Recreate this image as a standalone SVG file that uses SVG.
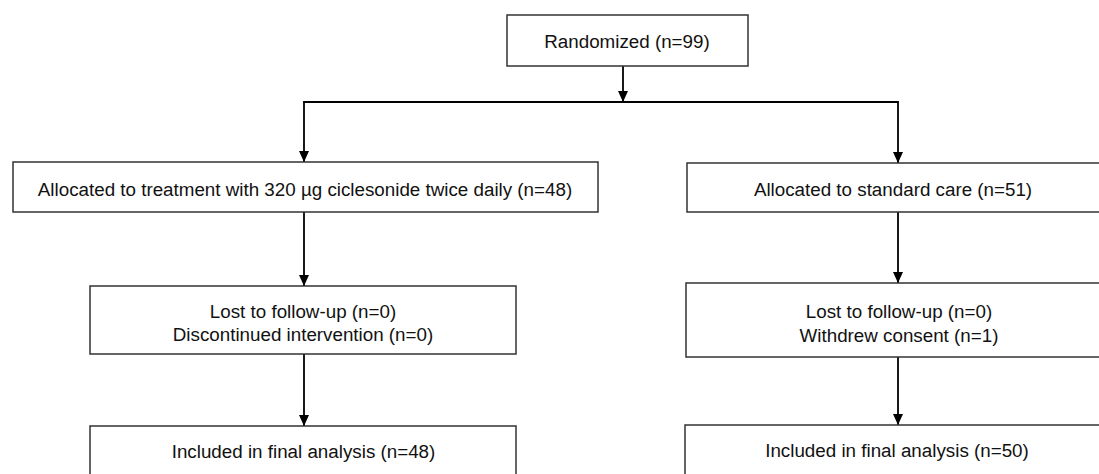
<svg xmlns="http://www.w3.org/2000/svg" width="1099" height="474" viewBox="0 0 1099 474">
<style>
.box{fill:#fff;stroke:#333;stroke-width:1.5}
.t{font-family:"Liberation Sans",Arial,sans-serif;font-size:18.8px;fill:#111;text-anchor:middle}
.c{fill:none;stroke:#000;stroke-width:1.8}
</style>
<defs>
<marker id="ad" markerWidth="11" markerHeight="10" refX="11" refY="5" orient="auto" markerUnits="userSpaceOnUse" viewBox="0 0 11 10">
<path d="M0,0 L11,5 L0,10 Z" fill="#000"/>
</marker>
</defs>
<rect width="1099" height="474" fill="#fff"/>
<g id="connectors">
<line class="c" x1="623" y1="66" x2="623" y2="102" marker-end="url(#ad)"/>
<line class="c" x1="303.1" y1="102" x2="898.9" y2="102"/>
<line class="c" x1="304" y1="102" x2="304" y2="162" marker-end="url(#ad)"/>
<line class="c" x1="898" y1="102" x2="898" y2="163" marker-end="url(#ad)"/>
<line class="c" x1="304" y1="212" x2="304" y2="286" marker-end="url(#ad)"/>
<line class="c" x1="304" y1="354" x2="304" y2="426" marker-end="url(#ad)"/>
<line class="c" x1="898" y1="212" x2="898" y2="283" marker-end="url(#ad)"/>
<line class="c" x1="898" y1="357" x2="898" y2="425" marker-end="url(#ad)"/>
</g>
<g id="randomized">
<rect class="box" x="507" y="15" width="241" height="51"/>
<text class="t" x="627" y="47.5">Randomized (n=99)</text>
</g>
<g id="alloc-left">
<rect class="box" x="13" y="162" width="585" height="50"/>
<text class="t" x="305" y="196">Allocated to treatment with 320 µg ciclesonide twice daily (n=48)</text>
</g>
<g id="alloc-right">
<rect class="box" x="687" y="163" width="430" height="49"/>
<text class="t" x="893" y="196">Allocated to standard care (n=51)</text>
</g>
<g id="lost-left">
<rect class="box" x="90" y="286" width="426" height="68"/>
<text class="t" x="303" y="317.5">Lost to follow-up (n=0)</text>
<text class="t" x="303" y="341">Discontinued intervention (n=0)</text>
</g>
<g id="lost-right">
<rect class="box" x="686" y="283" width="430" height="74"/>
<text class="t" x="899" y="318">Lost to follow-up (n=0)</text>
<text class="t" x="899" y="342">Withdrew consent (n=1)</text>
</g>
<g id="incl-left">
<rect class="box" x="90" y="426" width="426" height="60"/>
<text class="t" x="303.5" y="458">Included in final analysis (n=48)</text>
</g>
<g id="incl-right">
<rect class="box" x="685" y="425" width="430" height="60"/>
<text class="t" x="897" y="457">Included in final analysis (n=50)</text>
</g>
</svg>
